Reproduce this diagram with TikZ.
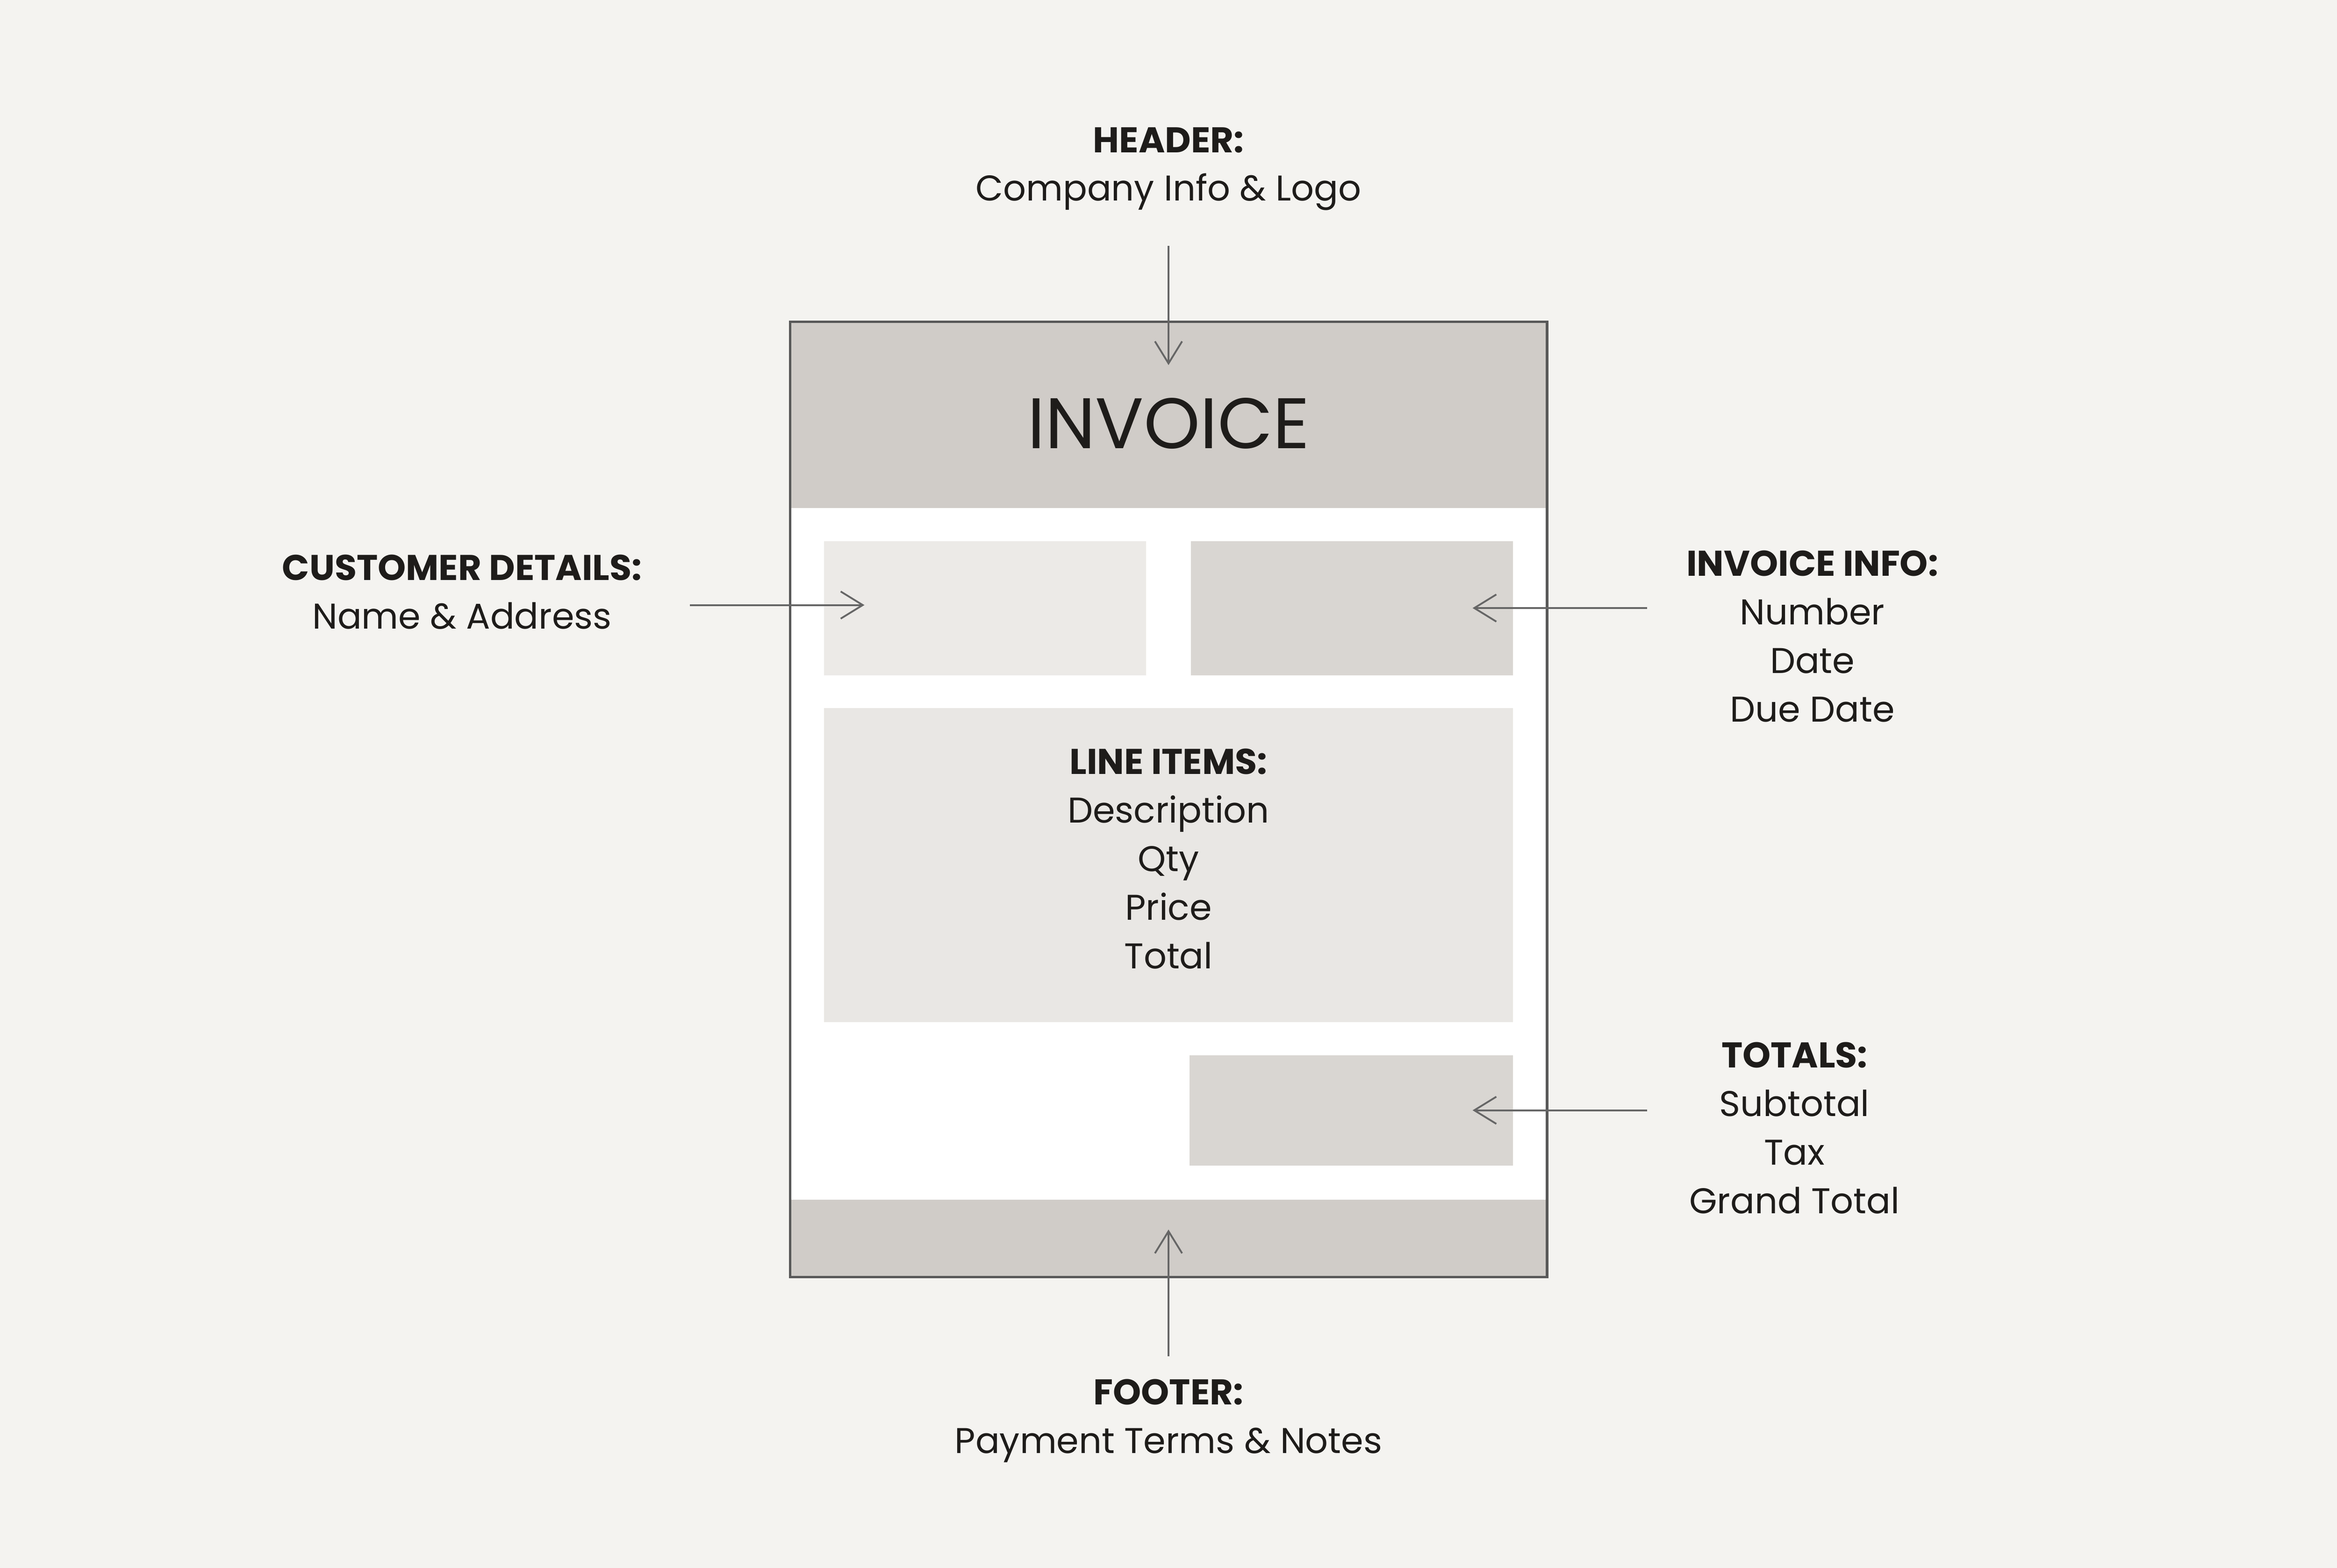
\documentclass[tikz,border=0pt]{standalone}
\usepackage{fontspec}
\setmainfont{Poppins}
\usetikzlibrary{arrows.meta}
\definecolor{bg}{HTML}{F4F3F0}
\definecolor{band}{HTML}{D0CCC8}
\definecolor{lite}{HTML}{ECEAE7}
\definecolor{mid}{HTML}{D9D6D2}
\definecolor{items}{HTML}{E9E7E4}
\definecolor{txt}{HTML}{1E1C1A}
\tikzset{
  lbl/.style={align=center,text=txt,font=\fontsize{12}{16.3}\selectfont,inner sep=0pt},
  conn/.style={draw=black!60,line width=0.6pt,-{Straight Barb[length=2.6mm,width=3.2mm]}},
  blk/.style={draw=none,inner sep=0pt}
}
\begin{document}
\begin{tikzpicture}[x=0.5pt,y=-0.5pt]
\fill[bg] (0,0) rectangle (1568,1052);
\useasboundingbox (0,0) rectangle (1568,1052);
% document
\filldraw[fill=white,draw=black!65,line width=0.8pt] (530,216) rectangle (1038,857);
\fill[band] (530.5,216.5) rectangle (1037.5,341);
\fill[band] (530.5,805) rectangle (1037.5,856.5);
\draw[draw=black!65,line width=0.8pt] (530,216) rectangle (1038,857);
\fill[lite] (553,363) rectangle (769,453);
\fill[mid] (799,363) rectangle (1015,453);
\fill[items] (553,475) rectangle (1015,686);
\fill[mid] (798,708) rectangle (1015,782);
\node[lbl,font=\fontsize{24}{28}\selectfont] (inv) at (784,284) {INVOICE};
\node[lbl,anchor=north] (li) at (784,502) {\textbf{LINE ITEMS:}\\Description\\Qty\\Price\\Total};
% labels
\node[lbl,anchor=north] (hd) at (784,85) {\textbf{HEADER:}\\Company Info \& Logo};
\node[lbl,anchor=north] (cd) at (310,372) {\textbf{CUSTOMER DETAILS:}\\Name \& Address};
\node[lbl,anchor=north] (ii) at (1216,369) {\textbf{INVOICE INFO:}\\Number\\Date\\Due Date};
\node[lbl,anchor=north] (tt) at (1204,699) {\textbf{TOTALS:}\\Subtotal\\Tax\\Grand Total};
\node[lbl,anchor=north] (ft) at (784,925) {\textbf{FOOTER:}\\Payment Terms \& Notes};
% connector ends
\coordinate (hs) at (784,165); \coordinate (he) at (784,245);
\coordinate (cs) at (463,406); \coordinate (ce) at (580,406);
\coordinate (is) at (1105,408); \coordinate (ie) at (988,408);
\coordinate (ts) at (1105,745); \coordinate (te) at (988,745);
\coordinate (fs) at (784,910); \coordinate (fe) at (784,825);
\draw[conn] (hs) -- (he);
\draw[conn] (cs) -- (ce);
\draw[conn] (is) -- (ie);
\draw[conn] (ts) -- (te);
\draw[conn] (fs) -- (fe);
\end{tikzpicture}
\end{document}
